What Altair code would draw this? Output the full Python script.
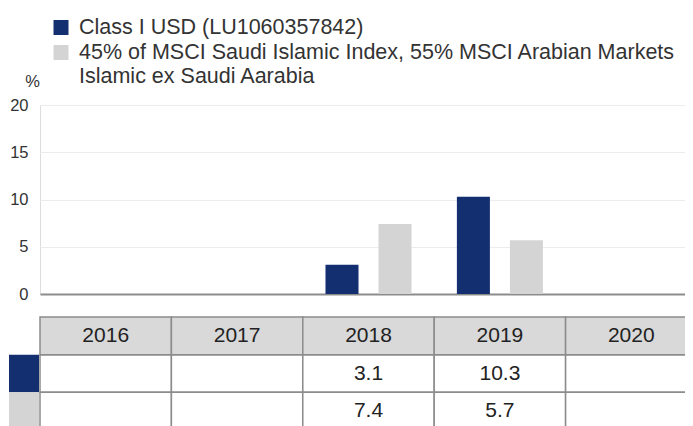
import altair as alt
import pandas as pd

# ---- data ----
years = ["2016", "2017", "2018", "2019", "2020"]
series = [
    "Class I USD (LU1060357842)",
    "45% of MSCI Saudi Islamic Index, 55% MSCI Arabian Markets\nIslamic ex Saudi Aarabia",
]
fund_values = [None, None, 3.1, 10.3, None]
bench_values = [None, None, 7.4, 5.7, None]
colors = ["#142f6f", "#d4d4d4"]
y_ticks = [0, 5, 10, 15, 20]
header_key = "header"

FONT = "Liberation Sans"
W, H = 645, 189          # visible plot area (page is only 693 px wide)
TABLE_W = 657            # the table / x scale runs on past the window edge

# ---- tables built from the arrays ----
rows = []
for s, vals in zip(series, [fund_values, bench_values]):
    for y, v in zip(years, vals):
        rows.append({"year": y, "series": s, "value": v})
long_df = pd.DataFrame(rows)
bars_df = long_df.dropna()

header_df = pd.DataFrame({"year": years, "row": [header_key] * len(years)})
body_df = pd.DataFrame([{"year": y, "row": s} for s in series for y in years])
vals_df = bars_df.rename(columns={"series": "row"})
key_df = pd.DataFrame({"row": series, "series": series})
legend_df = pd.DataFrame({"series": series})

x_scale = alt.Scale(domain=years, range=[0, TABLE_W], paddingInner=0, paddingOuter=0)
color_scale = alt.Scale(domain=series, range=colors)
table_y = alt.Scale(domain=[header_key] + series, range=[212, 325],
                    paddingInner=0, paddingOuter=0)
legend_y = alt.Scale(type="point", domain=series, range=[-77.5, -52.5], padding=0)

# ---- bars ----
bars = alt.Chart(bars_df).mark_bar().encode(
    x=alt.X("year:N", scale=x_scale,
            axis=alt.Axis(labels=False, ticks=False, title=None, grid=False,
                          domainColor="#8c8c8c", domainWidth=2)),
    xOffset=alt.XOffset("series:N",
                        scale=alt.Scale(domain=series, paddingInner=0.377, paddingOuter=0.428)),
    y=alt.Y("value:Q", scale=alt.Scale(domain=[0, 20], nice=False),
            axis=alt.Axis(values=y_ticks, title="%", titleAngle=0, titleX=-8, titleY=-19,
                          titleAlign="center", titleBaseline="alphabetic",
                          titleFontSize=16.5, titleFontWeight="normal", titleColor="#333333",
                          titleFont=FONT,
                          labelFontSize=16.5, labelColor="#333333", labelFont=FONT,
                          labelPadding=12, ticks=False, tickSize=0, domain=False,
                          gridColor="#ececec", gridWidth=1)),
    color=alt.Color("series:N", scale=color_scale, legend=None),
)

# ---- table ----
header_cells = alt.Chart(header_df).mark_rect(fill="#d9d9d9", stroke="#8c8c8c", strokeWidth=1.5).encode(
    x=alt.X("year:N", scale=x_scale),
    y=alt.Y("row:N", scale=table_y, axis=None),
)
body_cells = alt.Chart(body_df).mark_rect(fill="white", stroke="#8c8c8c", strokeWidth=1.5).encode(
    x=alt.X("year:N", scale=x_scale),
    y=alt.Y("row:N", scale=table_y, axis=None),
)
key_cells = alt.Chart(key_df).mark_rect().encode(
    x=alt.value(-31), x2=alt.value(-1),
    y=alt.Y("row:N", scale=table_y, axis=None),
    color=alt.Color("series:N", scale=color_scale, legend=None),
)
header_text = alt.Chart(header_df).mark_text(fontSize=21, font=FONT, color="#222222").encode(
    x=alt.X("year:N", scale=x_scale),
    y=alt.Y("row:N", scale=table_y, axis=None),
    text="year:N",
)
value_text = alt.Chart(vals_df).mark_text(fontSize=21, font=FONT, color="#222222").encode(
    x=alt.X("year:N", scale=x_scale),
    y=alt.Y("row:N", scale=table_y, axis=None),
    text=alt.Text("value:Q", format=".1f"),
)
table = alt.layer(body_cells, header_cells, key_cells, header_text, value_text)

# ---- legend ----
legend_sq = alt.Chart(legend_df).mark_square(size=225, opacity=1).encode(
    x=alt.value(21),
    y=alt.Y("series:N", scale=legend_y, axis=None),
    color=alt.Color("series:N", scale=color_scale, legend=None),
)
legend_txt = alt.Chart(legend_df).mark_text(
    align="left", baseline="middle", lineBreak="\n", fontSize=21.5, lineHeight=24.5,
    font=FONT, color="#333333",
).encode(
    x=alt.value(39),
    y=alt.Y("series:N", scale=legend_y, axis=None),
    text="series:N",
)
legend = alt.layer(legend_sq, legend_txt)

chart = (
    alt.layer(bars, table, legend)
    .resolve_scale(y="independent")
    .properties(
        width=W, height=H,
        padding={"left": 32, "top": 97, "right": 0, "bottom": 132},
        autosize=alt.AutoSizeParams(type="none"),
    )
    .configure_view(stroke=None)
    .configure(font=FONT)
)

chart.save("out.html", embed_options={"renderer": "svg", "actions": False})
